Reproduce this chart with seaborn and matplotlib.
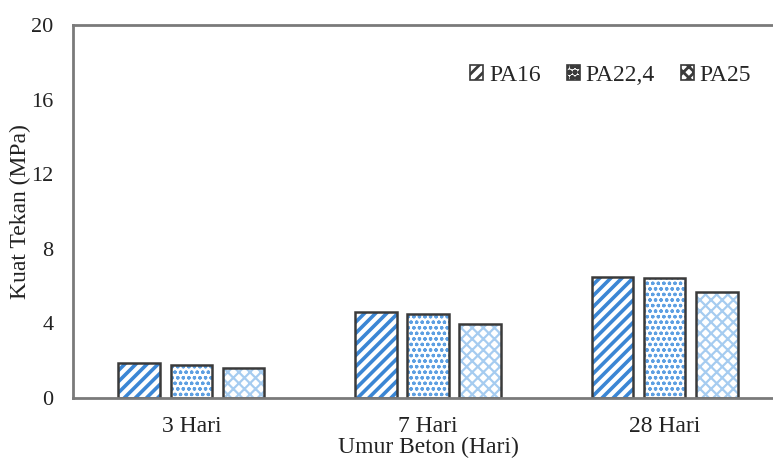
import matplotlib
matplotlib.use("Agg")
import matplotlib.pyplot as plt
from matplotlib.patches import Rectangle, Patch
import seaborn as sns
import pandas as pd

# Compressive strength of porous concrete by age and aggregate size
umur = ["3 Hari", "7 Hari", "28 Hari"]
campuran = ["PA16", "PA22,4", "PA25"]
pa16 = [1.88, 4.60, 6.50]
pa22_4 = [1.78, 4.50, 6.43]
pa25 = [1.60, 3.97, 5.68]

df = pd.DataFrame({
    "umur": umur * 3,
    "campuran": [c for c in campuran for _ in umur],
    "kuat": pa16 + pa22_4 + pa25,
})

sns.set_theme(style="white")
plt.rcParams["font.family"] = ["Liberation Serif", "DejaVu Serif"]
plt.rcParams["hatch.linewidth"] = 2.0

hatch_styles = ["///", "ooo", "xxx"]
hatch_colors = ["#3b86d4", "#5d9fe2", "#a6ccf0"]
hatch_widths = [2.6, 0.9, 1.6]
outline = "#3a3a3a"
spine_col = "#7a7a7a"
text_col = "#222222"

fig = plt.figure(figsize=(7.73, 4.62), dpi=100)
ax = fig.add_axes([73 / 773, 1 - 398 / 462, (783 - 73) / 773, (398 - 25) / 462])

sns.barplot(data=df, x="umur", y="kuat", hue="campuran", order=umur,
            hue_order=campuran, palette=["white"] * 3, width=0.66, gap=0.2,
            ax=ax, legend=False, errorbar=None)

for cont, h, hc, hw in zip(ax.containers, hatch_styles, hatch_colors, hatch_widths):
    for bar in cont:
        bar.set_hatch(h)
        bar.set_edgecolor(hc)
        bar.set_linewidth(0)
        if hasattr(bar, "set_hatch_linewidth"):
            bar.set_hatch_linewidth(hw)
        ax.add_patch(Rectangle(bar.get_xy(), bar.get_width(), bar.get_height(),
                               fill=False, edgecolor=outline, linewidth=1.8,
                               zorder=bar.get_zorder() + 0.1))

ax.set_ylim(0, 20)
ax.set_yticks([0, 4, 8, 12, 16, 20])
ax.set_xlim(-0.5, 2.5)
ax.set_xticks(range(len(umur)))
ax.set_xticklabels(umur)
ax.set_xticks([0.5, 1.5], minor=True)
ax.tick_params(axis="x", which="major", length=0, labelsize=17, pad=13, colors=text_col)
ax.tick_params(axis="x", which="minor", direction="in", length=4, width=1.5, color=spine_col)
ax.tick_params(axis="y", direction="in", length=5, width=1.5, color=spine_col,
               labelsize=16, pad=14, labelcolor=text_col)

for side in ["left", "bottom", "top"]:
    ax.spines[side].set_visible(True)
    ax.spines[side].set_color(spine_col)
    ax.spines[side].set_linewidth(2)
ax.spines["right"].set_visible(False)

ax.set_xlabel("Umur Beton (Hari)", fontsize=17, labelpad=0, color=text_col)
ax.set_ylabel("Kuat Tekan (MPa)", fontsize=17, labelpad=0, color=text_col)

handles = [Patch(facecolor="white", edgecolor=hc, hatch=h, linewidth=0)
           for h, hc in zip(hatch_styles, hatch_colors)]
leg = ax.legend(handles, campuran, ncol=3, frameon=False, fontsize=17,
                loc="upper right", bbox_to_anchor=(0.985, 0.95),
                handlelength=0.55, handleheight=0.55, handletextpad=0.25,
                columnspacing=1.1)
for lh in leg.legend_handles:
    lh.set_edgecolor(outline)
    lh.set_linewidth(1.2)

fig.savefig("out.png", dpi=100)
